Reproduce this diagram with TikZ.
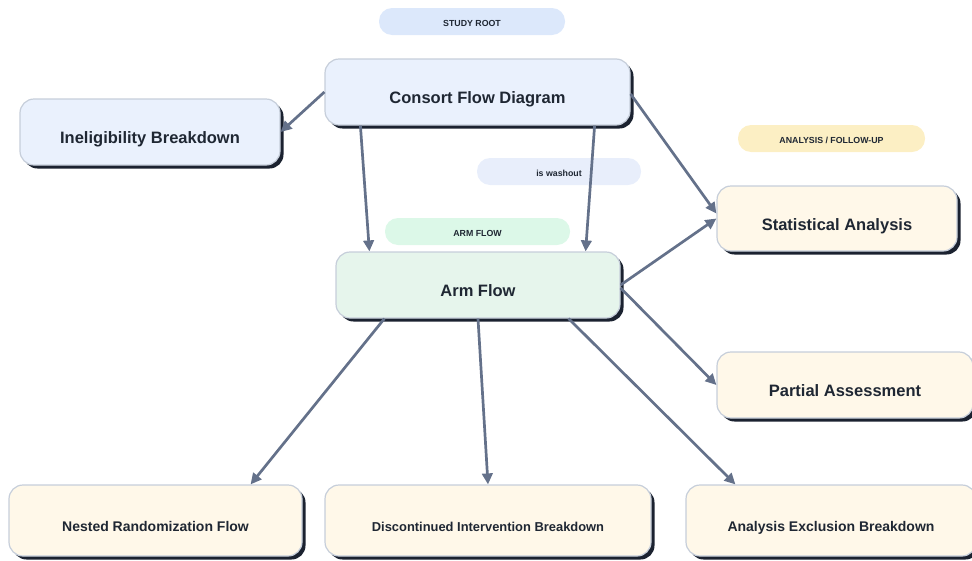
\documentclass[tikz,border=0pt]{standalone}
\usepackage{fontspec}
\setmainfont{Liberation Sans}
\usetikzlibrary{arrows.meta,shadows,calc}

\definecolor{txt}{HTML}{1F2733}
\definecolor{edge}{HTML}{64718A}
\definecolor{rim}{HTML}{C6CEDA}
\definecolor{shade}{HTML}{1B2230}
\definecolor{bluefill}{HTML}{EAF1FD}
\definecolor{greenfill}{HTML}{E6F5EC}
\definecolor{creamfill}{HTML}{FFF8E9}
\definecolor{bluepill}{HTML}{DCE8FB}
\definecolor{washpill}{HTML}{E8EEFB}
\definecolor{greenpill}{HTML}{DCF8E8}
\definecolor{yellowpill}{HTML}{FCEFC4}

\tikzset{
  box/.style={rectangle, rounded corners=14pt, draw=rim, line width=1.2pt,
    text=txt, align=center,
    drop shadow={shadow xshift=3.5pt, shadow yshift=-3.5pt, fill=shade, opacity=1}},
  bigtext/.style={font=\bfseries\fontsize{16.5}{19}\selectfont, text height=24pt, text depth=0.2pt},
  smalltext/.style={font=\bfseries\fontsize{#1}{16}\selectfont, text height=22pt, text depth=0.2pt},
  pill/.style={rectangle, rounded corners=13pt, draw=none, text=txt,
    font=\bfseries\fontsize{8.8}{10}\selectfont, minimum height=27pt, inner sep=0pt,
    text height=10.4pt, text depth=0pt},
  link/.style={draw=edge, line width=2.7pt,
    -{Triangle[length=11pt,width=10.5pt]}},
}

\begin{document}
\begin{tikzpicture}[x=1pt,y=-1pt]
\useasboundingbox (0,0) rectangle (972,560);

% section labels
\node[pill, fill=bluepill, minimum width=186pt] (rootlbl) at (472,21.5) {STUDY ROOT};
\node[pill, fill=washpill, minimum width=164pt] (washlbl) at (559,171.5) {is washout};
\node[pill, fill=yellowpill, minimum width=187pt] (anlbl) at (831.5,138.5) {ANALYSIS / FOLLOW-UP};
\node[pill, fill=greenpill, minimum width=185pt] (armlbl) at (477.5,231.5) {ARM FLOW};

% boxes
\node[box, bigtext, fill=bluefill, minimum width=305pt, minimum height=66pt] (cfd) at (477.5,92) {Consort Flow Diagram};
\node[box, bigtext, fill=bluefill, minimum width=260pt, minimum height=66pt] (inel) at (150,132) {Ineligibility Breakdown};
\node[box, bigtext, fill=creamfill, minimum width=240pt, minimum height=65pt] (stat) at (837,218.5) {Statistical Analysis};
\node[box, bigtext, fill=greenfill, minimum width=284pt, minimum height=66pt] (arm) at (478,285) {Arm Flow};
\node[box, bigtext, fill=creamfill, minimum width=256pt, minimum height=66pt] (part) at (845,385) {Partial Assessment};
\node[box, smalltext=14, fill=creamfill, minimum width=293pt, minimum height=71pt] (nest) at (155.5,520.5) {Nested Randomization Flow};
\node[box, smalltext=12.9, fill=creamfill, minimum width=326pt, minimum height=71pt, text height=21.4pt] (disc) at (488,520.5) {Discontinued Intervention Breakdown};
\node[box, smalltext=14, fill=creamfill, minimum width=290pt, minimum height=71pt] (excl) at (831,520.5) {Analysis Exclusion Breakdown};

% connectors
\draw[link] (cfd.west) -- (inel.east);
\draw[link] ($(cfd.south west)+(36,0)$) -- ($(arm.north west)+(34,0)$);
\draw[link] ($(cfd.south east)+(-36,0)$) -- ($(arm.north east)+(-35,0)$);
\draw[link] ($(cfd.east)+(0,2)$) -- ($(stat.west)+(0,-5)$);
\draw[link] (arm.east) -- (stat.west);
\draw[link] ($(arm.east)+(0,3)$) -- (part.west);
\draw[link] ($(arm.south west)+(49,0)$) -- ($(nest.north east)+(-52,0)$);
\draw[link] (arm.south) -- (disc.north);
\draw[link] ($(arm.south east)+(-52,0)$) -- ($(excl.north west)+(50,0)$);
\end{tikzpicture}
\end{document}
